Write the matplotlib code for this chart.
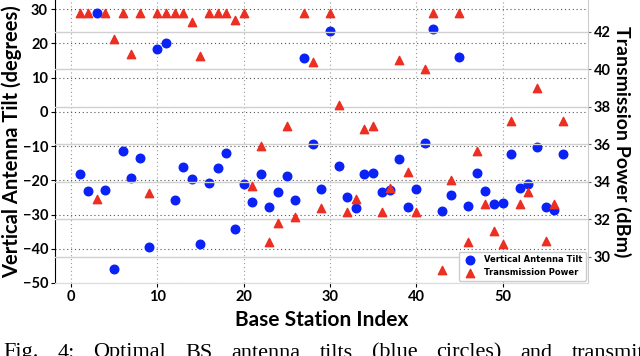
import matplotlib
matplotlib.use("Agg")
import matplotlib.pyplot as plt
import numpy as np

# Data
station_index = list(range(1, 58))
tilt_deg = [-18.2, -23.1, 29.0, -22.8, -46.0, -11.4, -19.4, -13.4, -39.4, 18.5,
            20.1, -25.6, -16.0, -19.7, -38.7, -20.7, -16.3, -12.1, -34.3, -21.1,
            -26.4, -18.2, -27.9, -23.3, -18.7, -25.6, 15.8, -9.3, -22.6, 23.7,
            -15.7, -24.8, -28.1, -18.2, -17.9, -23.4, -22.8, -13.8, -27.8, -22.6,
            -9.2, 24.2, -29.1, -24.4, 16.1, -27.6, -18.0, -23.0, -27.0, -26.7,
            -12.4, -22.2, -21.2, -10.2, -27.8, -28.6, -12.3]
power_dbm = [43.0, 43.0, 33.1, 43.0, 41.6, 43.0, 40.8, 43.0, 33.4, 43.0,
             43.0, 43.0, 43.0, 42.5, 40.7, 43.0, 43.0, 43.0, 42.65, 43.0,
             33.8, 35.9, 30.8, 31.8, 37.0, 32.1, 43.0, 40.4, 32.6, 43.0,
             38.1, 32.4, 33.1, 36.8, 37.0, 32.4, 33.65, 40.5, 34.5, 32.4,
             40.0, 43.0, 29.3, 34.1, 43.0, 30.8, 35.65, 32.8, 31.4, 30.7,
             37.25, 32.8, 33.45, 39.0, 30.85, 32.8, 37.25]
left_ticks = [-50, -40, -30, -20, -10, 0, 10, 20, 30]
right_ticks = [30, 32, 34, 36, 38, 40, 42]
x_ticks = [0, 10, 20, 30, 40, 50]
caption = "Fig. 4: Optimal BS antenna tilts (blue circles) and transmit"

BLUE = "#0a22f5"
RED = "#ec2f22"
TICKFONT = "Lato"

fig = plt.figure(figsize=(6.4, 3.56), dpi=100)
ax1 = fig.add_axes([55/640, 1 - 283/356, (588-55)/640, 283/356])
ax2 = ax1.twinx()

ax1.scatter(station_index, tilt_deg, s=38, color=BLUE, zorder=3,
            label="Vertical Antenna Tilt")
ax2.scatter(station_index, power_dbm, s=36, marker="^", color=RED, zorder=3,
            label="Transmission Power")

ax1.set_xlim(-1.85, 59.9)
ax1.set_ylim(-50, 32.7)
ax2.set_ylim(28.6, 43.7)
ax1.set_xticks(x_ticks)
ax1.set_yticks(left_ticks)
ax2.set_yticks(right_ticks)

ax1.grid(True, which="major", axis="y", linestyle=(0, (1, 2.5)),
         color="#555555", linewidth=0.8)
ax1.xaxis.grid(True, linestyle=(0, (1, 2.5)), color="#999999", linewidth=0.8)
ax2.grid(True, axis="y", linestyle="-", color="#d0d0d0", linewidth=1.0, zorder=0)
ax1.set_axisbelow(True)
ax2.set_axisbelow(True)

for ax in (ax1, ax2):
    ax.spines["top"].set_visible(False)
    ax.spines["bottom"].set_color("#dddddd")
    ax.spines["right"].set_color("#cccccc")
    ax.spines["left"].set_color("black")
ax2.spines["left"].set_visible(False)
ax1.spines["right"].set_visible(False)

ax1.tick_params(axis="both", length=3, width=0.8, labelsize=10.5, pad=2)
ax2.tick_params(axis="y", length=2, width=0.8, labelsize=10.5, pad=2, color="#666666")
for lab in ax1.get_xticklabels() + ax1.get_yticklabels() + ax2.get_yticklabels():
    lab.set_fontfamily(TICKFONT)
    lab.set_fontweight("bold")

ax1.set_xlabel("Base Station Index", fontsize=15, fontweight="bold",
               fontfamily=TICKFONT, labelpad=4)
ax1.set_ylabel("Vertical Antenna Tilt (degrees)", fontsize=14.5, fontweight="bold",
               fontfamily=TICKFONT, labelpad=0)
ax2.set_ylabel("Transmission Power (dBm)", fontsize=14, fontweight="bold",
               fontfamily=TICKFONT, rotation=270, labelpad=15)

h1, l1 = ax1.get_legend_handles_labels()
h2, l2 = ax2.get_legend_handles_labels()
leg = ax2.legend(h1 + h2, l1 + l2, loc="lower right", borderaxespad=0.3,
                 prop={"family": "DejaVu Sans", "weight": "bold", "size": 6},
                 handletextpad=0.6, labelspacing=0.5, borderpad=0.4,
                 framealpha=1.0, edgecolor="#cccccc", fancybox=True, markerscale=1.0)

# Justified caption line (words spread across the full width, cut at the right)
words = caption.split(" ")
renderer = fig.canvas.get_renderer()
texts = [fig.text(0, 0, w, fontsize=16, fontfamily="Liberation Serif",
                  va="baseline", ha="left") for w in words]
widths = [t.get_window_extent(renderer=renderer).width for t in texts]
x_start, x_end = 3.0, 644.0
gap = (x_end - x_start - sum(widths)) / (len(words) - 1)
x = x_start
for t, w in zip(texts, widths):
    t.set_position((x / 640, -1.5 / 356))
    x += w + gap

fig.savefig("out.png", dpi=100)
